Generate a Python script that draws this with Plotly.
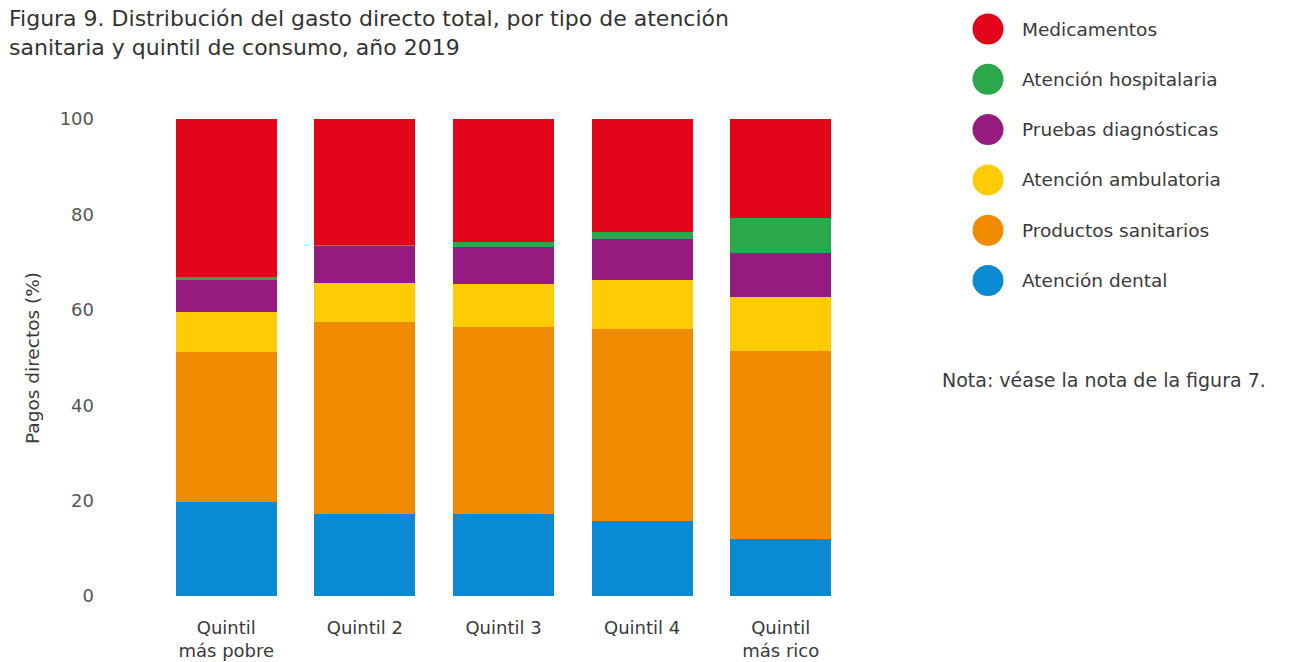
import plotly.graph_objects as go

# Quintiles of consumption (x categories)
quintiles = ["Quintil<br>más pobre", "Quintil 2", "Quintil 3", "Quintil 4", "Quintil<br>más rico"]

# Share of total direct spending by type of care (%), stacked bottom to top
dental = [19.7, 17.2, 17.2, 15.7, 11.9]
productos = [31.5, 40.2, 39.2, 40.3, 39.5]
ambulatoria = [8.3, 8.2, 9.0, 10.2, 11.3]
pruebas = [6.7, 7.8, 7.8, 8.6, 9.2]
hospitalaria = [0.6, 0.1, 1.0, 1.5, 7.3]
medicamentos = [33.2, 26.5, 25.8, 23.7, 20.8]

series_names = ["Atención dental", "Productos sanitarios", "Atención ambulatoria",
                "Pruebas diagnósticas", "Atención hospitalaria", "Medicamentos"]
series_values = [dental, productos, ambulatoria, pruebas, hospitalaria, medicamentos]
series_colors = ["#0a8ad2", "#f08a00", "#ffcb05", "#951b81", "#2aa84a", "#e3061a"]

y_ticks = [0, 20, 40, 60, 80, 100]

title_text = ("Figura 9. Distribución del gasto directo total, por tipo de atención<br>"
              "sanitaria y quintil de consumo, año 2019")

W, H = 1301, 662
# plot area in pixels
L, R, T, B = 157, 850, 119, 596

FONT = "DejaVu Sans"
TXT = "#3a3a3a"


def px_x(px):
    return (px - L) / (R - L)


def px_y(py):
    return (B - py) / (B - T)


fig = go.Figure()
for name, vals, col in zip(series_names, series_values, series_colors):
    fig.add_trace(go.Bar(
        x=quintiles, y=vals, name=name,
        marker=dict(color=col, line=dict(width=0)),
        showlegend=False, hoverinfo="x+y+name",
    ))

shapes = []
annotations = []

# Two-line title
annotations.append(dict(
    x=px_x(7), y=px_y(4), xref="paper", yref="paper",
    text=title_text, showarrow=False, xanchor="left", yanchor="top",
    align="left",
    font=dict(family=FONT, size=22, color="#333333"),
))

# Legend: large circles with labels, top to bottom (Medicamentos first)
leg_x, leg_y0, leg_step, rad = 988, 29, 50.3, 15.5
for i, (name, col) in enumerate(zip(series_names[::-1], series_colors[::-1])):
    cy = leg_y0 + i * leg_step
    shapes.append(dict(
        type="circle", xref="paper", yref="paper",
        x0=px_x(leg_x - rad), x1=px_x(leg_x + rad),
        y0=px_y(cy + rad), y1=px_y(cy - rad),
        fillcolor=col, line=dict(width=0),
    ))
    annotations.append(dict(
        x=px_x(1020), y=px_y(cy), xref="paper", yref="paper",
        text=name, showarrow=False, xanchor="left", yanchor="middle",
        font=dict(family=FONT, size=18.5, color=TXT),
    ))

annotations.append(dict(
    x=px_x(940), y=px_y(380), xref="paper", yref="paper",
    text="Nota: véase la nota de la figura 7.", showarrow=False,
    xanchor="left", yanchor="middle",
    font=dict(family=FONT, size=19, color=TXT),
))

# y-axis title
annotations.append(dict(
    x=px_x(32), y=px_y(358), xref="paper", yref="paper",
    text="Pagos directos (%)", showarrow=False, textangle=-90,
    xanchor="center", yanchor="middle",
    font=dict(family=FONT, size=18.5, color=TXT),
))

fig.update_layout(
    barmode="stack",
    bargap=0.27,
    width=W, height=H,
    margin=dict(l=L, r=W - R, t=T, b=H - B, pad=0, autoexpand=False),
    paper_bgcolor="white", plot_bgcolor="white",
    xaxis=dict(
        showgrid=False, zeroline=False, showline=False, ticks="",
        automargin=False,
        ticklabelstandoff=19,
        tickfont=dict(family=FONT, size=18, color=TXT),
    ),
    yaxis=dict(
        range=[0, 100], tickvals=y_ticks,
        showgrid=False, zeroline=False, showline=False, ticks="",
        automargin=False,
        ticklabelstandoff=62,
        tickfont=dict(family=FONT, size=18, color="#555555"),
    ),
    shapes=shapes,
    annotations=annotations,
)

fig.write_html("out.html")
